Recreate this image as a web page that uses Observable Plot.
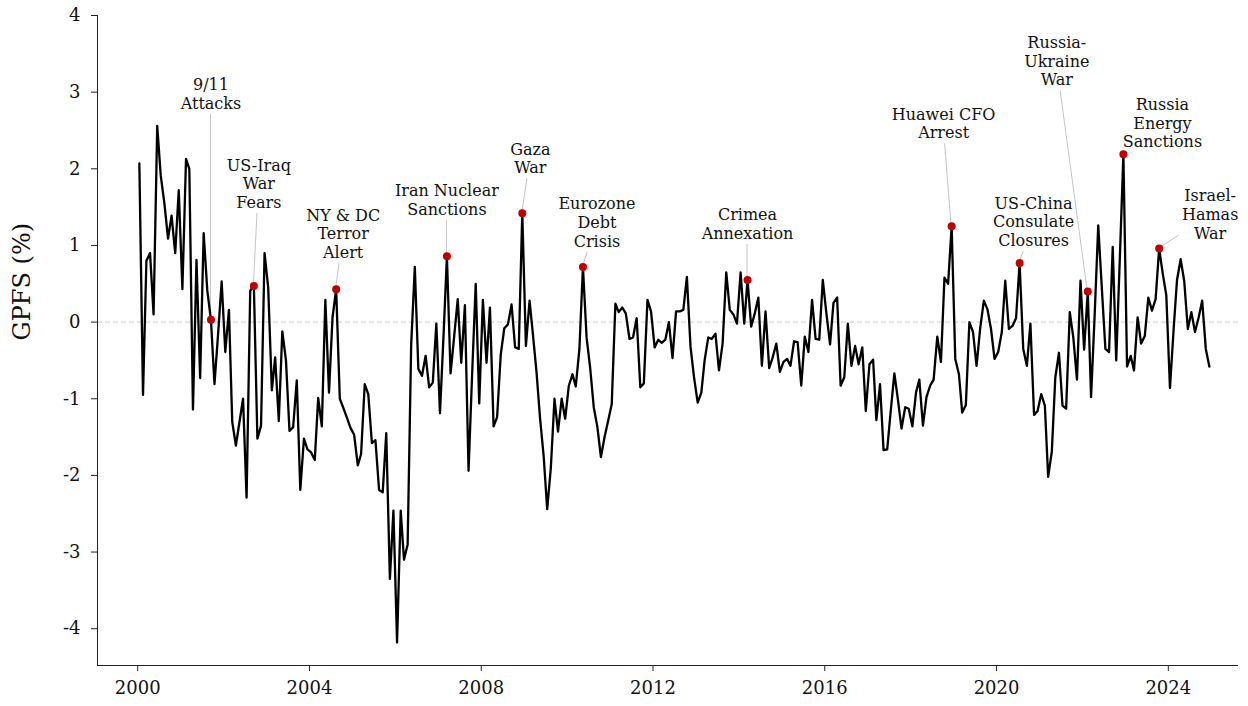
<!DOCTYPE html>
<html>
<head>
<meta charset="utf-8">
<script src="https://cdn.jsdelivr.net/npm/d3@7"></script>
<script src="https://cdn.jsdelivr.net/npm/@observablehq/plot@0.6"></script>
<style>
  body { margin: 0; background: #fff; }
  #chart svg { display: block; }
</style>
</head>
<body>
<div id="chart"></div>
<script>
// Monthly GPFS readings (%), January 2000 through December 2024.
const startYear = 2000;
const gpfs = [
  // 2000
  2.07, -0.95, 0.80, 0.90, 0.10, 2.56, 1.91, 1.55, 1.09, 1.39, 0.90, 1.72,
  // 2001
  0.43, 2.13, 2.00, -1.14, 0.81, -0.73, 1.16, 0.41, 0.03, -0.81, -0.15, 0.53,
  // 2002
  -0.39, 0.16, -1.30, -1.61, -1.31, -1.00, -2.29, 0.41, 0.47, -1.52, -1.35, 0.90,
  // 2003
  0.45, -0.89, -0.46, -1.29, -0.12, -0.50, -1.42, -1.37, -0.76, -2.19, -1.52, -1.66,
  // 2004
  -1.70, -1.80, -0.99, -1.36, 0.29, -0.92, 0.06, 0.43, -1.00, -1.12, -1.25, -1.38,
  // 2005
  -1.47, -1.87, -1.72, -0.81, -0.94, -1.58, -1.54, -2.19, -2.22, -1.45, -3.35, -2.46,
  // 2006
  -4.18, -2.46, -3.10, -2.90, -0.30, 0.72, -0.61, -0.70, -0.44, -0.85, -0.79, -0.02,
  // 2007
  -1.19, -0.15, 0.86, -0.67, -0.20, 0.30, -0.53, 0.22, -1.94, -0.70, 0.50, -1.06,
  // 2008
  0.29, -0.53, 0.19, -1.36, -1.24, -0.42, -0.08, -0.03, 0.23, -0.33, -0.35, 1.42,
  // 2009
  -0.31, 0.28, -0.15, -0.65, -1.25, -1.75, -2.44, -1.90, -1.00, -1.43, -1.00, -1.26,
  // 2010
  -0.83, -0.68, -0.84, -0.35, 0.72, -0.20, -0.59, -1.11, -1.37, -1.76, -1.50, -1.29,
  // 2011
  -1.07, 0.24, 0.13, 0.19, 0.11, -0.22, -0.20, 0.05, -0.85, -0.80, 0.29, 0.14,
  // 2012
  -0.33, -0.23, -0.27, -0.23, 0.00, -0.47, 0.14, 0.14, 0.16, 0.59, -0.32, -0.72,
  // 2013
  -1.05, -0.92, -0.50, -0.20, -0.22, -0.15, -0.63, -0.28, 0.65, 0.16, 0.10, -0.02,
  // 2014
  0.65, -0.02, 0.55, -0.06, 0.11, 0.32, -0.57, 0.14, -0.60, -0.46, -0.28, -0.65,
  // 2015
  -0.52, -0.48, -0.57, -0.25, -0.26, -0.83, -0.19, -0.39, 0.29, -0.22, -0.23, 0.55,
  // 2016
  0.11, -0.29, 0.25, 0.32, -0.83, -0.72, -0.02, -0.57, -0.31, -0.55, -0.33, -1.16,
  // 2017
  -0.55, -0.49, -1.28, -0.81, -1.67, -1.66, -1.16, -0.67, -1.02, -1.39, -1.11, -1.13,
  // 2018
  -1.36, -0.92, -0.75, -1.35, -0.98, -0.83, -0.75, -0.19, -0.52, 0.58, 0.50, 1.25,
  // 2019
  -0.48, -0.68, -1.18, -1.08, 0.00, -0.13, -0.57, -0.08, 0.28, 0.17, -0.09, -0.48,
  // 2020
  -0.39, -0.13, 0.54, -0.09, -0.05, 0.05, 0.77, -0.35, -0.57, -0.02, -1.21, -1.16,
  // 2021
  -0.94, -1.09, -2.02, -1.69, -0.72, -0.40, -1.09, -1.13, 0.13, -0.20, -0.75, 0.54,
  // 2022
  -0.36, 0.40, -0.98, 0.11, 1.26, 0.43, -0.35, -0.39, 0.98, -0.50, 0.85, 2.19,
  // 2023
  -0.58, -0.44, -0.63, 0.06, -0.28, -0.18, 0.32, 0.15, 0.30, 0.96, 0.63, 0.35,
  // 2024
  -0.86, -0.10, 0.55, 0.82, 0.54, -0.09, 0.13, -0.13, 0.06, 0.28, -0.35, -0.58
];

// Geopolitical events marked on the series.
const eventMonths = [
  "2001-09", "2002-09", "2004-08", "2007-03", "2008-12", "2010-05",
  "2014-03", "2018-12", "2020-07", "2022-02", "2022-12", "2023-10"
];
const eventLabels = [
  "9/11\nAttacks",
  "US-Iraq\nWar\nFears",
  "NY & DC\nTerror\nAlert",
  "Iran Nuclear\nSanctions",
  "Gaza\nWar",
  "Eurozone\nDebt\nCrisis",
  "Crimea\nAnnexation",
  "Huawei CFO\nArrest",
  "US-China\nConsulate\nClosures",
  "Russia-\nUkraine\nWar",
  "Russia\nEnergy\nSanctions",
  "Israel-\nHamas\nWar"
];
// Label placement, in pixels from the marked point (last-line baseline, centered).
const labelOffsets = [
  [0, -211], [5, -78], [7, -31], [0, -41], [8, -40], [14, -20],
  [0, -41], [-8, -88], [14, -17], [-31, -206], [39, -7], [51, -10]
];

const xTickYears = [2000, 2004, 2008, 2012, 2016, 2020, 2024];
const yTicks = [-4, -3, -2, -1, 0, 1, 2, 3, 4];
const yAxisLabel = "GPFS (%)";

// ---- derived tables ----
const monthDate = (i) => new Date(Date.UTC(startYear, i, 15));
const series = gpfs.map((v, i) => ({ date: monthDate(i), value: v }));
const events = eventMonths.map((m, i) => {
  const [yy, mm] = m.split("-").map(Number);
  const idx = (yy - startYear) * 12 + (mm - 1);
  return {
    date: series[idx].date,
    value: series[idx].value,
    label: eventLabels[i],
    dx: labelOffsets[i][0],
    dy: labelOffsets[i][1]
  };
});

const xDomain = [new Date(Date.UTC(1999, 0, 24)), new Date(Date.UTC(2025, 7, 20))];
const yDomain = [-4.48, 4];

const fontFamily = "'DejaVu Serif', serif";
const annoSize = 16;
const annoLineHeight = 1.17;
const tickSize = 18;

// Leader lines from each event point to the edge of its label box.
const measure = document.createElement("canvas").getContext("2d");
measure.font = `${annoSize}px 'DejaVu Serif'`;
function leaders(index, scales) {
  const g = d3.create("svg:g")
    .attr("stroke", "#c4c4c4")
    .attr("stroke-width", 1)
    .attr("fill", "none");
  for (const e of events) {
    const px = scales.x(e.date), py = scales.y(e.value);
    const ax = px + e.dx, ay = py + e.dy;
    const lines = e.label.split("\n");
    const w = d3.max(lines, (l) => measure.measureText(l).width);
    const lh = annoSize * annoLineHeight;
    const x0 = ax - w / 2 - 2, x1 = ax + w / 2 + 2;
    const y0 = ay - (lines.length - 1) * lh - annoSize * 0.78, y1 = ay + annoSize * 0.28;
    const cx = ax, cy = (y0 + y1) / 2;
    const ddx = cx - px, ddy = cy - py;
    let t = 0;
    if (ddx !== 0) { const ta = (x0 - px) / ddx, tb = (x1 - px) / ddx; t = Math.max(t, Math.min(ta, tb)); }
    if (ddy !== 0) { const ta = (y0 - py) / ddy, tb = (y1 - py) / ddy; t = Math.max(t, Math.min(ta, tb)); }
    const len = Math.hypot(ddx, ddy);
    const tEnd = t - 1 / len;
    if (tEnd * len < 5) continue;
    g.append("line")
      .attr("x1", px).attr("y1", py)
      .attr("x2", px + ddx * tEnd).attr("y2", py + ddy * tEnd);
  }
  return g.node();
}

const chart = Plot.plot({
  width: 1248,
  height: 706,
  marginLeft: 97,
  marginRight: 10,
  marginTop: 15,
  marginBottom: 41,
  style: { fontFamily, fontSize: "16px", color: "#111", background: "#fff" },
  x: { type: "utc", domain: xDomain },
  y: { domain: yDomain },
  marks: [
    Plot.ruleY([0], { stroke: "#cccccc", strokeWidth: 1, strokeDasharray: "5,3" }),
    Plot.axisX({
      ticks: xTickYears.map((y) => new Date(Date.UTC(y, 0, 1))),
      tickFormat: (d) => String(d.getUTCFullYear()),
      tickSize: 6, tickPadding: 10, label: null, fontSize: tickSize, stroke: "#222"
    }),
    Plot.axisY({
      ticks: yTicks,
      tickFormat: (d) => String(d),
      tickSize: 6, tickPadding: 11, label: null, fontSize: tickSize, stroke: "#222"
    }),
    Plot.ruleX([xDomain[0]], { stroke: "#222", strokeWidth: 1 }),
    Plot.ruleY([yDomain[0]], { stroke: "#222", strokeWidth: 1 }),
    leaders,
    Plot.line(series, { x: "date", y: "value", stroke: "#000", strokeWidth: 2.3 }),
    Plot.dot(events, { x: "date", y: "value", r: 4, fill: "#c00000", stroke: "none" }),
    ...events.map((e) =>
      Plot.text([e], {
        x: "date", y: "value", text: "label",
        dx: e.dx, dy: e.dy,
        lineAnchor: "bottom", lineHeight: annoLineHeight,
        fontSize: annoSize, fill: "#111"
      })
    ),
    Plot.text([yAxisLabel], {
      text: (d) => d, frameAnchor: "left", rotate: -90, dx: -75,
      fontSize: 24, fill: "#111"
    })
  ]
});

document.getElementById("chart").appendChild(chart);
</script>
</body>
</html>
